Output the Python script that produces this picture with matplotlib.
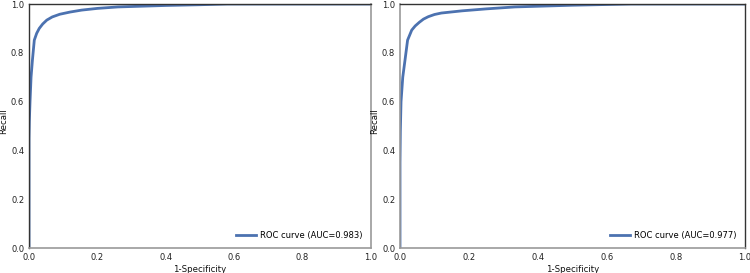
import matplotlib
matplotlib.use("Agg")
import matplotlib.pyplot as plt

# ROC points
fpr_a = [0.0, 0.0, 0.0, 0.001, 0.003, 0.006, 0.01, 0.0155, 0.0225, 0.03, 0.04,
         0.052, 0.068, 0.09, 0.12, 0.154, 0.2, 0.26, 0.4, 0.5, 0.58, 1.0]
tpr_a = [0.0, 0.33, 0.45, 0.52, 0.6, 0.7, 0.77, 0.852, 0.88, 0.9, 0.918,
         0.934, 0.947, 0.958, 0.967, 0.975, 0.982, 0.988, 0.994, 0.997, 1.0, 1.0]
auc_a = 0.983

fpr_b = [0.0, 0.0, 0.0, 0.001, 0.003, 0.008, 0.0145, 0.022, 0.034, 0.044, 0.056,
         0.068, 0.082, 0.1, 0.12, 0.18, 0.25, 0.333, 0.5, 0.67, 1.0]
tpr_b = [0.0, 0.155, 0.35, 0.48, 0.6, 0.7, 0.77, 0.852, 0.893, 0.91, 0.925,
         0.938, 0.948, 0.957, 0.963, 0.972, 0.98, 0.988, 0.995, 1.0, 1.0]
auc_b = 0.977

ticks = [0.0, 0.2, 0.4, 0.6, 0.8, 1.0]

BLUE = "#4c72b0"
DARK = "#333333"
GREY = "#999999"
FS = 6.0

fig = plt.figure(figsize=(7.5, 2.73), dpi=100)
ax1 = fig.add_axes([29 / 750, 25 / 273, 342 / 750, 244 / 273])
ax2 = fig.add_axes([400 / 750, 25 / 273, 345 / 750, 244 / 273])

panels = [
    (ax1, fpr_a, tpr_a, auc_a, {"top": DARK, "left": DARK, "right": GREY, "bottom": GREY}),
    (ax2, fpr_b, tpr_b, auc_b, {"top": DARK, "left": GREY, "right": DARK, "bottom": GREY}),
]

for ax, fpr, tpr, auc, spine_cols in panels:
    ax.plot(fpr, tpr, color=BLUE, lw=2.0, label=f"ROC curve (AUC={auc:.3f})")
    ax.set_xlim(0, 1)
    ax.set_ylim(0, 1)
    ax.set_xticks(ticks)
    ax.set_yticks(ticks)
    ax.set_xticklabels([f"{t:.1f}" for t in ticks])
    ax.set_yticklabels([f"{t:.1f}" for t in ticks])
    ax.tick_params(length=0, labelsize=FS, colors="#222222", pad=3.5)
    for side, col in spine_cols.items():
        ax.spines[side].set_color(col)
        ax.spines[side].set_linewidth(1.2 if col == GREY else 1.0)
    ax.set_xlabel("1-Specificity", fontsize=6.2, color="#111111", labelpad=2)
    ax.set_ylabel("Recall", fontsize=6.2, color="#111111")
    # label anchor is the right edge of the rotated text
    ax.yaxis.set_label_coords(-0.06, 0.52)
    ax.legend(loc="lower right", frameon=False, fontsize=FS, handlelength=2.4,
              handletextpad=0.5, borderaxespad=0.6)

fig.savefig("out.png", dpi=100)
